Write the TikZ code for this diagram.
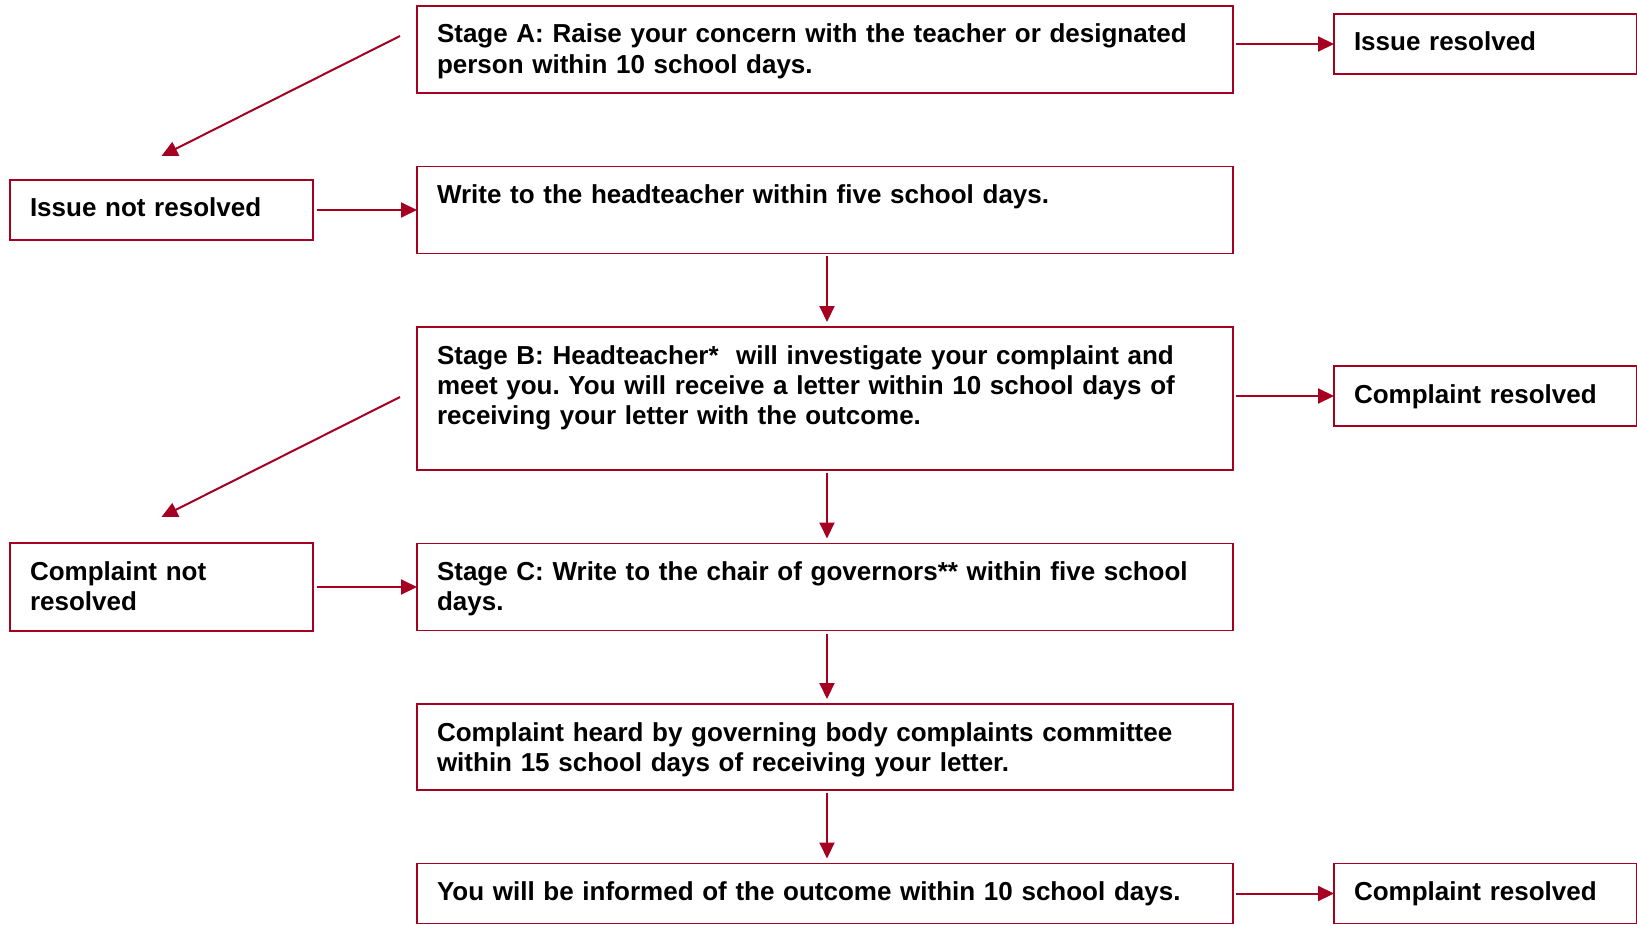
\documentclass[tikz,border=0pt]{standalone}
\usepackage{fontspec}
\setmainfont{Liberation Sans}
\usepackage{xcolor}
\usetikzlibrary{positioning,arrows.meta}
\definecolor{boxred}{RGB}{165,0,33}
\frenchspacing

\begin{document}
\begin{tikzpicture}[node distance=36.75pt, font=\fontsize{13}{15.2}\selectfont\bfseries]
    \tikzstyle{stage} = [rectangle, draw=boxred, line width=0.9pt, outer sep=0pt, text width=388pt, align=left, inner xsep=10pt, inner ysep=9.5pt, text height=9pt, text depth=15.5pt]
    \tikzstyle{side} = [stage, text width=131.5pt]
    \tikzstyle{tall} = [text depth=43.5pt]
    \tikzstyle{slim} = [text depth=2pt]
    \tikzstyle{arrow} = [draw=boxred, line width=1pt, -{Triangle[length=8pt,width=7.5pt]}]

    \useasboundingbox (0,0) rectangle (818.5pt,-462.5pt);

    % Main stages
    \node [stage, anchor=north west] (stageA) at (208.5pt,-3pt) {Stage A: Raise your concern with the teacher or designated\\person within 10 school days.};
    \node [stage, below=of stageA] (write) {Write to the headteacher within five school days.};
    \node [stage, tall, below=of write] (stageB) {Stage B: Headteacher*\ \ will investigate your complaint and\\meet you. You will receive a letter within 10 school days of\\receiving your letter with the outcome.};
    \node [stage, below=of stageB] (stageC) {Stage C: Write to the chair of governors** within five school\\days.};
    \node [stage, text depth=15pt, below=of stageC] (heard) {Complaint heard by governing body complaints committee\\within 15 school days of receiving your letter.};
    \node [stage, slim, below=of heard] (outcome) {You will be informed of the outcome within 10 school days.};

    % Not resolved
    \node [side, slim, left=52pt of write] (notres) {Issue not resolved};
    \node [side, text depth=16pt, left=52pt of stageC] (cnotres) {Complaint not\\resolved};

    % Resolved
    \node [side, slim, right=50.5pt of stageA, yshift=2.75pt] (issres) {Issue resolved};
    \node [side, slim, right=50.5pt of stageB, yshift=1.25pt] (cres) {Complaint resolved};
    \node [side, slim, right=50.5pt of outcome] (cresend) {Complaint resolved};

    % Free ends of the slanted arrows
    \coordinate (fromA) at ([xshift=-8.5pt, yshift=-15pt]stageA.north west);
    \coordinate (toNot) at ([yshift=12pt]notres.north);
    \coordinate (fromB) at ([xshift=-8.5pt, yshift=-35pt]stageB.north west);
    \coordinate (toCnot) at ([yshift=13pt]cnotres.north);

    % Arrows
    \draw [arrow] (fromA) -- (toNot);
    \draw [arrow] (fromB) -- (toCnot);
    \draw [arrow, shorten <=2pt] (notres.east) -- (notres.east -| write.west);
    \draw [arrow, shorten <=2pt] (cnotres.east) -- (cnotres.east -| stageC.west);
    \draw [arrow, shorten <=1.5pt] (stageA.east |- issres.west) -- (issres.west);
    \draw [arrow, shorten <=1.5pt] (stageB.east |- cres.west) -- (cres.west);
    \draw [arrow, shorten <=1.5pt] (outcome.east |- cresend.west) -- (cresend.west);
    \draw [arrow, shorten <=1.5pt, shorten >=2.5pt] ([xshift=1pt]write.south) -- ([xshift=1pt]stageB.north);
    \draw [arrow, shorten <=1.5pt, shorten >=2.5pt] ([xshift=1pt]stageB.south) -- ([xshift=1pt]stageC.north);
    \draw [arrow, shorten <=1.5pt, shorten >=2.5pt] ([xshift=1pt]stageC.south) -- ([xshift=1pt]heard.north);
    \draw [arrow, shorten <=1.5pt, shorten >=2.5pt] ([xshift=1pt]heard.south) -- ([xshift=1pt]outcome.north);
\end{tikzpicture}
\end{document}
